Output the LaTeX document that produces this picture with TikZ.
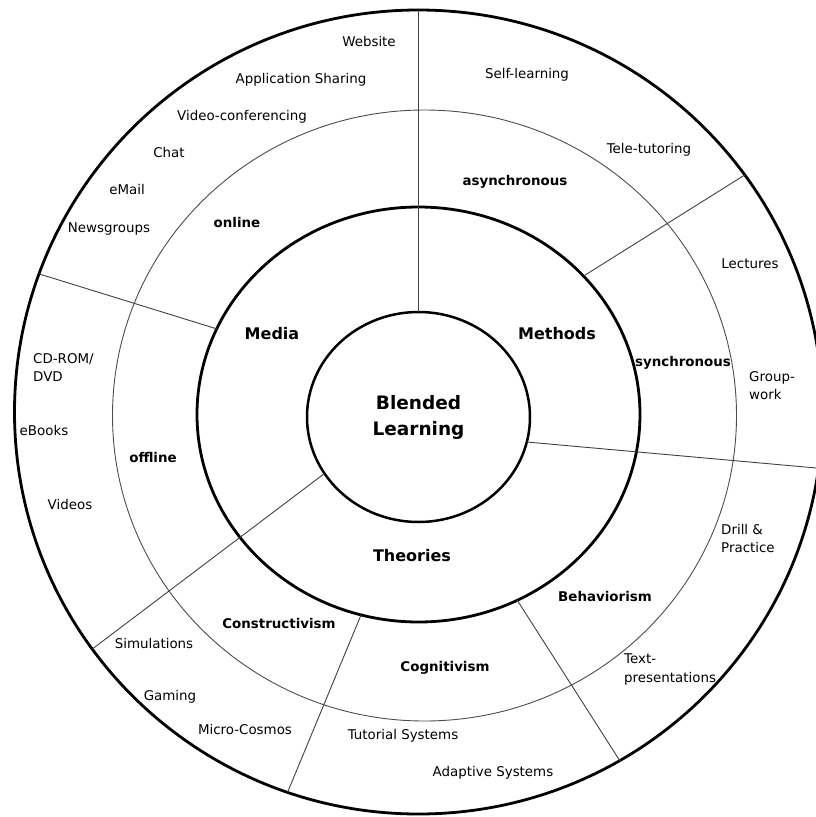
\documentclass[tikz,border=0pt]{standalone}
\usepackage{fontspec}
\setmainfont{DejaVu Sans}
\usepackage{tikz}
\usetikzlibrary{shapes.geometric}

\begin{document}
\begin{tikzpicture}[x=1pt,y=-1pt,
    ring/.style={ellipse, draw, inner sep=0pt, outer sep=0pt},
    divider/.style={draw=black!75, line width=0.9pt},
    item/.style={font=\fontsize{13.4}{18.5}\selectfont, inner sep=0pt, anchor=mid, yshift=-1.5pt},
    sub/.style={font=\fontsize{13.4}{16}\selectfont\bfseries, inner sep=0pt, anchor=mid, yshift=-1.5pt},
    area/.style={font=\fontsize{16}{19}\selectfont\bfseries, inner sep=0pt, anchor=mid, yshift=-1pt}]
  \useasboundingbox (0,0) rectangle (816,817);
  \clip (0,0) rectangle (816,817);

  % rings
  \node[ring, line width=2.8pt, minimum width=808pt, minimum height=804pt] (outer) at (418.5,412) {};
  \node[ring, draw=black!70, line width=0.9pt, minimum width=624pt, minimum height=611pt] (middle) at (424.5,415.5) {};
  \node[ring, line width=2.8pt, minimum width=443pt, minimum height=415pt] (thick) at (418.5,414.5) {};
  \node[ring, line width=2.5pt, minimum width=223pt, minimum height=210pt, align=center,
        font=\fontsize{18.5}{26}\selectfont\bfseries] (core) at (418.5,417) {Blended\\Learning};

  % dividers
  \draw[divider] (outer.90) -- (core.90);
  \draw[divider] (outer.160.2) -- (thick.157.5);
  \draw[divider] (outer.36.8) -- (thick.40.9);
  \draw[divider] (core.-13.4) -- (outer.-8);
  \draw[divider] (core.211.1) -- (outer.216.4);
  \draw[divider] (thick.254.1) -- (outer.251.8);
  \draw[divider] (thick.298.6) -- (outer.300.7);

  \node[area] (media) at (272,336) {Media};
  \node[area] (methods) at (557,336) {Methods};
  \node[area] (theories) at (412,558) {Theories};

  \node[sub] (async) at (515,181) {asynchronous};
  \node[sub] (online) at (237,223) {online};
  \node[sub] (sync) at (683,362) {synchronous};
  \node[sub] (offline) at (153,458) {offline};
  \node[sub] (constr) at (279,624.5) {Constructivism};
  \node[sub] (cognit) at (445,667) {Cognitivism};
  \node[sub] (behav) at (605,597) {Behaviorism};

  \node[item] (website) at (369,42) {Website};
  \node[item] (appshare) at (301,79) {Application Sharing};
  \node[item] (videoconf) at (242,116) {Video-conferencing};
  \node[item] (chat) at (169,153) {Chat};
  \node[item] (email) at (127,190) {eMail};
  \node[item] (newsgroups) at (109,228) {Newsgroups};
  \node[item] (selflearn) at (527,74) {Self-learning};
  \node[item] (teletutor) at (649,149) {Tele-tutoring};
  \node[item] (lectures) at (750,264) {Lectures};
  \node[item, anchor=west, align=left] (groupwork) at (749,384) {Group-\\work};
  \node[item, anchor=west, align=left] (cdrom) at (33,366) {CD-ROM/\\DVD};
  \node[item] (ebooks) at (44,431) {eBooks};
  \node[item] (videos) at (70,505) {Videos};
  \node[item, anchor=west, align=left] (drill) at (721,537) {Drill \&\\Practice};
  \node[item, anchor=west, align=left] (textpres) at (624,668) {Text-\\presentations};
  \node[item] (simulations) at (154,644) {Simulations};
  \node[item] (gaming) at (170,696) {Gaming};
  \node[item] (microcosmos) at (245,730) {Micro-Cosmos};
  \node[item] (tutorial) at (403,735) {Tutorial Systems};
  \node[item] (adaptive) at (493,772) {Adaptive Systems};
\end{tikzpicture}
\end{document}
